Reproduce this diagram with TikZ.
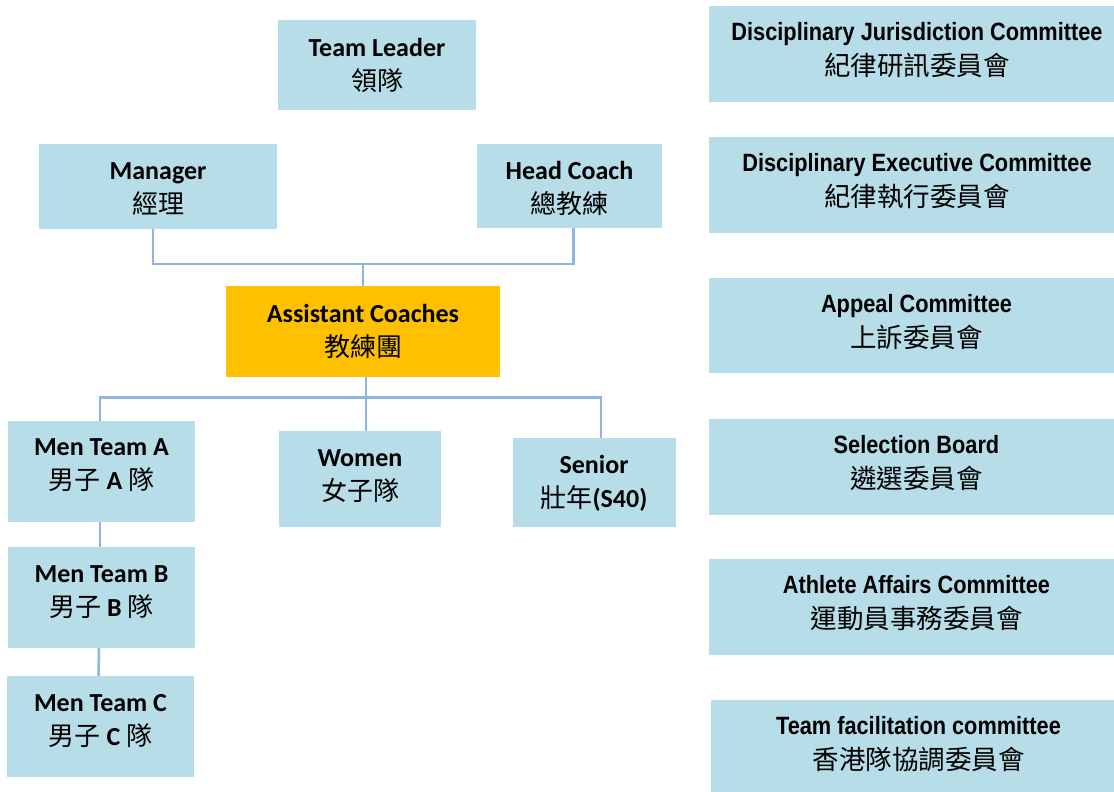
\documentclass[tikz,border=0pt]{standalone}
\usepackage{fontspec}
\newfontfamily\calib{Carlito}
\newfontfamily\cjk{Noto Sans CJK TC}
\newfontfamily\arl{Liberation Sans}[FakeStretch=0.87]
\definecolor{boxblue}{HTML}{B7DDE8}
\definecolor{boxorange}{HTML}{FFC000}
\definecolor{linkblue}{HTML}{8EB4E3}
\tikzset{
  lbox/.style={rectangle, fill=boxblue, draw=none, inner sep=0pt},
  obox/.style={rectangle, fill=boxorange, draw=none, inner sep=0pt},
  ltxt/.style={inner sep=0pt, align=center, text=black,
    font=\calib\bfseries\fontsize{26}{34}\selectfont},
  rtxt/.style={inner sep=0pt, align=center, text=black,
    font=\arl\bfseries\fontsize{25}{35}\selectfont},
  conn/.style={draw=linkblue, line width=2.5pt}
}
\newcommand{\zh}[1]{{\cjk\mdseries #1}}
\newcommand{\zhr}[1]{{\cjk\mdseries\fontsize{26.5}{35}\selectfont #1}}
\begin{document}
\begin{tikzpicture}[x=1pt,y=-1pt]
\path[use as bounding box] (0,0) rectangle (1114,792);
\clip (0,0) rectangle (1114,792);
% left hierarchy boxes
\node[lbox, minimum width=198pt, minimum height=90pt] (tl) at (377,65) {};
\node[lbox, minimum width=238pt, minimum height=85pt] (mgr) at (158,186.5) {};
\node[lbox, minimum width=185pt, minimum height=84pt] (hc) at (569.5,186) {};
\node[obox, minimum width=274pt, minimum height=91pt] (ac) at (363,331.5) {};
\node[lbox, minimum width=187pt, minimum height=101pt] (mA) at (101.5,471.5) {};
\node[lbox, minimum width=187pt, minimum height=101pt] (mB) at (101.5,597.5) {};
\node[lbox, minimum width=187pt, minimum height=101pt] (mC) at (100.5,726.5) {};
\node[lbox, minimum width=162pt, minimum height=96pt] (wom) at (360,479) {};
\node[lbox, minimum width=163pt, minimum height=89pt] (sen) at (594,482.5) {};
% texts
\node[ltxt] (tlt) at (377,65) {Team Leader\\\zh{領隊}};
\node[ltxt] (mgrt) at (158,188.5) {Manager\\\zh{經理}};
\node[ltxt] (hct) at (569.5,188.5) {Head Coach\\\zh{總教練}};
\node[ltxt] (act) at (363,331) {Assistant Coaches\\\zh{教練團}};
\node[ltxt] (mAt) at (101.5,465) {Men Team A\\\zh{男子} A \zh{隊}};
\node[ltxt] (mBt) at (101.5,592.5) {Men Team B\\\zh{男子} B \zh{隊}};
\node[ltxt] (mCt) at (100.5,721) {Men Team C\\\zh{男子} C \zh{隊}};
\node[ltxt] (womt) at (360,476) {Women\\\zh{女子隊}};
\node[ltxt] (sent) at (594,483) {Senior\\\zh{壯年}(S40)};
% right committees
\node[lbox, minimum width=415pt, minimum height=96pt] (dj) at (916.5,54) {};
\node[lbox, minimum width=415pt, minimum height=96pt] (de) at (916.5,185) {};
\node[lbox, minimum width=415pt, minimum height=95pt] (ap) at (916.5,325.5) {};
\node[lbox, minimum width=415pt, minimum height=96pt] (sb) at (916.5,467) {};
\node[lbox, minimum width=415pt, minimum height=96pt] (aa) at (916.5,607) {};
\node[lbox, minimum width=415pt, minimum height=96pt] (tf) at (918.5,748) {};
\node[rtxt] (djt) at (917,50) {Disciplinary Jurisdiction Committee\\\zhr{紀律研訊委員會}};
\node[rtxt] (det) at (917,181.5) {Disciplinary Executive Committee\\\zhr{紀律執行委員會}};
\node[rtxt] (apt) at (916.5,322.5) {Appeal Committee\\\zhr{上訴委員會}};
\node[rtxt] (sbt) at (916.5,463) {Selection Board\\\zhr{遴選委員會}};
\node[rtxt] (aat) at (916.5,603.5) {Athlete Affairs Committee\\\zhr{運動員事務委員會}};
\node[rtxt] (tft) at (918.5,744) {Team facilitation committee\\\zhr{香港隊協調委員會}};
% connectors
\coordinate (j1) at (363,264);
\coordinate (j2) at (366,397.5);
\draw[conn] ([xshift=-5pt]mgr.south) |- (j1) -| ([xshift=4pt]hc.south);
\draw[conn] (j1) -- (ac.north);
\draw[conn] ([xshift=3pt]ac.south) -- (j2);
\draw[conn] ([xshift=-1.5pt]mA.north) |- (j2) -| ([xshift=7pt]sen.north);
\draw[conn] (j2) -- (j2 |- wom.north);
\draw[conn] ([xshift=-1.5pt]mA.south) -- ([xshift=-1.5pt]mB.north);
\draw[conn] ([xshift=-2.5pt]mB.south) -- ([xshift=-2pt]mC.north);
\end{tikzpicture}
\end{document}
